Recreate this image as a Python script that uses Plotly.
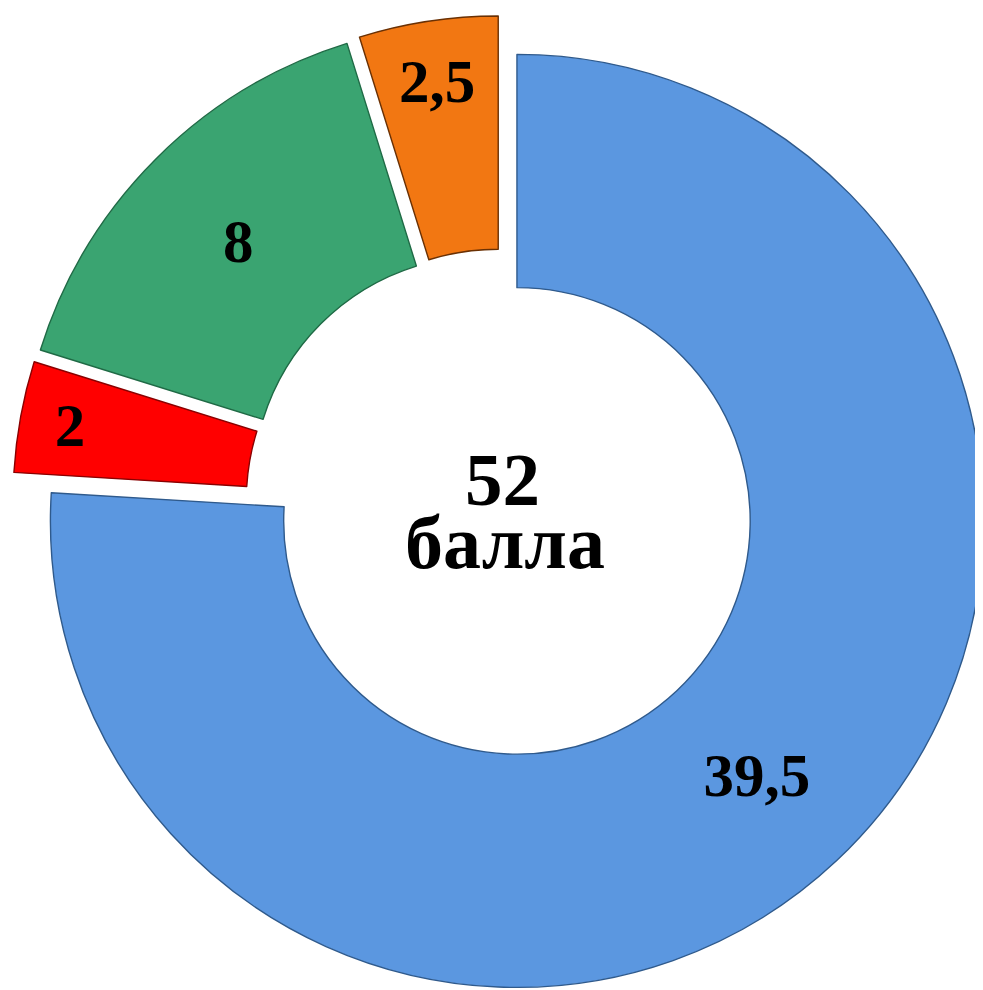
import plotly.graph_objects as go

# Data (clockwise from 12 o'clock)
categories = ["Категория 1", "Категория 2", "Категория 3", "Категория 4"]
values = [39.5, 2, 8, 2.5]
colors = ["#5B97E0", "#FF0000", "#3AA471", "#F27712"]
edge_colors = ["#2F5A8C", "#8A0000", "#1F6A45", "#6A3003"]
total_label = "52"
total_unit = "балла"

text_labels = [f"{v:g}".replace(".", ",") for v in values]

W, H = 983, 990
OFF = 8                      # page body margin offset
cx, cy = 501.6 - OFF, 504.6 - OFF   # pie centre in figure pixels
half = 488.9                 # half-size of the pie box

FONT = "Liberation Serif, Times New Roman, serif"

fig = go.Figure(go.Pie(
    labels=categories,
    values=values,
    text=text_labels,
    textinfo="text",
    textposition="inside",
    insidetextorientation="horizontal",
    sort=False,
    direction="clockwise",
    rotation=0,
    hole=0.5,
    pull=[0.048, 0.048, 0.048, 0.048],
    marker=dict(colors=colors, line=dict(color=edge_colors, width=1.4)),
    textfont=dict(family=FONT, size=61, color="black", weight="bold"),
    domain=dict(x=[max(0.0, (cx - half) / W), min(1.0, (cx + half) / W)],
                y=[max(0.0, 1 - (cy + half) / H), min(1.0, 1 - (cy - half) / H)]),
    hoverinfo="label+value",
    showlegend=False,
))

fig.add_annotation(x=494.5 / W, y=1 - 471 / H, xref="paper", yref="paper",
                   text=total_label, showarrow=False, xanchor="center", yanchor="middle",
                   font=dict(family=FONT, size=75, color="black", weight="bold"))
fig.add_annotation(x=497 / W, y=1 - 534 / H, xref="paper", yref="paper",
                   text=total_unit, showarrow=False, xanchor="center", yanchor="middle",
                   font=dict(family=FONT, size=76, color="black", weight="bold"))

fig.update_layout(
    width=W, height=H,
    margin=dict(l=0, r=0, t=0, b=0),
    paper_bgcolor="white",
    plot_bgcolor="white",
    uniformtext=dict(minsize=61, mode="show"),
)

fig.write_html("out.html")
